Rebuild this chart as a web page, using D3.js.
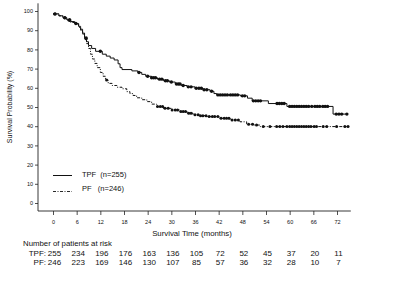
<!DOCTYPE html>
<html><head><meta charset="utf-8">
<script src="https://cdn.jsdelivr.net/npm/d3@7"></script>
<style>
body{margin:0;background:#fff;}
text{font-family:Arial,"Liberation Sans",sans-serif;fill:#111;}
</style></head>
<body><svg id="c" width="400" height="286"></svg>
<script>
// ---- data ----
const xTicks = [0,6,12,18,24,30,36,42,48,54,60,66,72];
const yTicks = [0,10,20,30,40,50,60,70,80,90,100];
const tpfSteps = [[0,98.5],[1.5,97.5],[2.5,96.5],[3.5,95.5],[4.5,94.5],[5.5,93.5],[6.5,92],[7,90.5],[7.5,88.5],[8,86],[8.5,84],[9,82],[9.8,80.5],[10.8,79],[12.5,77.5],[13.5,76.5],[14.5,75.5],[15.5,74.5],[16.5,72.5],[17,70.5],[17.5,69.5],[20,68.8],[21.5,68],[22.5,67],[23.5,66],[25,65.2],[26.5,64.5],[28,63.7],[29.5,63],[31,62],[32.5,61.2],[34,60.5],[36,59.8],[38,59],[39.8,58.2],[40.8,57],[41.5,56.3],[47.5,55.8],[49.3,54.6],[50.5,53.2],[54.6,51.8],[59.3,50.3],[71,46.3],[74.8,46.3]];
const pfSteps = [[0,98.5],[1.5,97.5],[2.5,96.5],[3.5,95],[4.5,94],[5.5,93],[6.5,91.5],[7,90],[7.5,88],[8,85.5],[8.5,83],[9,80.5],[9.5,77.5],[10,75],[10.6,72.7],[11.2,70.5],[12,68],[12.7,66],[13.3,64],[14,62.3],[15,61.2],[16.2,60.3],[17.5,59.5],[18.7,58],[19.5,57],[20.3,56],[21.2,54.8],[22.5,53.8],[23.8,52.8],[25,51.5],[26.3,50.2],[28,49.3],[30,48.5],[32.2,47.6],[34,46.8],[35.5,46],[37,45.5],[39,45],[42.3,44.1],[44.9,43.2],[47.4,42.3],[49.1,41],[51,40.6],[52.5,39.8],[74.8,39.8]];
const tpfCensor = [0.5,3,4.2,5.8,8.4,12,21.8,24,25,25.5,26,27,27.6,28.5,29,30,31.3,31.8,32.2,33,34.3,35,36.3,37,37.6,38.3,39,40.2,41.8,42.4,43,43.6,44.2,45,45.6,46.2,46.8,48,48.6,50.8,51.4,52,52.6,56.8,57.4,58,58.6,60,60.6,61.2,61.8,62.4,63,63.6,64.2,64.8,65.6,66.4,67,67.6,68.4,69,69.6,71.8,72.5,73.2,74.5];
const pfCensor = [0.5,3,4.2,8.4,13.6,26.5,27.2,27.8,28.4,29.2,30.2,31,31.6,32.4,33,33.6,34.4,35,36,36.8,37.4,38,38.8,39.6,40.4,41,41.8,42.6,43.4,44,44.6,45.4,46.2,47,49.6,50.6,51.6,53.3,55,56.7,57.5,58.3,59.3,60,60.6,61.2,61.8,62.4,63,63.6,64.2,64.8,65.4,66.2,66.8,68.5,69.4,71.9,74,74.8];
const riskTimes = [0,6,12,18,24,30,36,42,48,54,60,66,72];
const tpfRisk = [255,234,196,176,163,136,105,72,52,45,37,20,11];
const pfRisk = [246,223,169,146,130,107,85,57,36,32,28,10,7];
const seriesLabels = ["TPF  (n=255)","PF   (n=246)"];

// ---- drawing ----
const svg = d3.select("#c");
const x = d3.scaleLinear().domain([0,72]).range([53,337]);
const y = d3.scaleLinear().domain([0,100]).range([203,11]);

// axes
const yAx = svg.append("g").attr("transform","translate(38,0)")
  .call(d3.axisLeft(y).tickValues(yTicks).tickSize(3).tickPadding(2));
const xAx = svg.append("g").attr("transform","translate(0,211)")
  .call(d3.axisBottom(x).tickValues(xTicks).tickSize(4).tickPadding(5));
[yAx,xAx].forEach(g=>{
  g.select(".domain").remove();
  g.selectAll("line").attr("stroke","#222").attr("stroke-width",0.8);
  g.selectAll("text").style("font-size","5.5px").attr("fill","#222").style("font-family","Arial, 'Liberation Sans', sans-serif");
});
svg.append("line").attr("x1",38).attr("x2",38).attr("y1",y(104)).attr("y2",211).attr("stroke","#222").attr("stroke-width",0.9);
svg.append("line").attr("x1",38).attr("x2",x(75.5)).attr("y1",211).attr("y2",211).attr("stroke","#222").attr("stroke-width",0.9);

svg.append("text").attr("x",192).attr("y",236).attr("text-anchor","middle").style("font-size","7.8px").text("Survival Time (months)");
svg.append("text").attr("transform","translate(12,107) rotate(-90)").attr("text-anchor","middle").style("font-size","7px").text("Survival Probability (%)");

// curves
const line = d3.line().x(d=>x(d[0])).y(d=>y(d[1])).curve(d3.curveStepAfter);
svg.append("path").datum(tpfSteps).attr("d",line).attr("fill","none").attr("stroke","#111").attr("stroke-width",1);
svg.append("path").datum(pfSteps).attr("d",line).attr("fill","none").attr("stroke","#111").attr("stroke-width",1).attr("stroke-dasharray","3,1.5,1,1.5");

function stepVal(steps,t){let v=steps[0][1];for(const s of steps){if(s[0]<=t)v=s[1];}return v;}
svg.append("g").selectAll("circle").data(tpfCensor).join("circle")
  .attr("cx",d=>x(d)).attr("cy",d=>y(stepVal(tpfSteps,d))).attr("r",1.7).attr("fill","#111");
svg.append("g").selectAll("circle").data(pfCensor).join("circle")
  .attr("cx",d=>x(d)).attr("cy",d=>y(stepVal(pfSteps,d))).attr("r",1.5).attr("fill","#111");

// legend
svg.append("line").attr("x1",53).attr("x2",72).attr("y1",175.5).attr("y2",175.5).attr("stroke","#111").attr("stroke-width",1);
svg.append("line").attr("x1",53).attr("x2",72).attr("y1",191.5).attr("y2",191.5).attr("stroke","#111").attr("stroke-width",0.9).attr("stroke-dasharray","3,1.5,1,1.5");
svg.append("text").attr("x",82).attr("y",176.5).style("font-size","7.5px").style("white-space","pre").attr("xml:space","preserve").text(seriesLabels[0]);
svg.append("text").attr("x",82).attr("y",190.5).style("font-size","7.5px").style("white-space","pre").attr("xml:space","preserve").text(seriesLabels[1]);

// risk table
svg.append("text").attr("x",23).attr("y",245.5).style("font-size","7.8px").text("Number of patients at risk");
svg.append("text").attr("x",46).attr("y",256).attr("text-anchor","end").style("font-size","8px").text("TPF:");
svg.append("text").attr("x",46).attr("y",264.5).attr("text-anchor","end").style("font-size","8px").text("PF:");
svg.append("g").selectAll("text").data(tpfRisk).join("text")
  .attr("x",(d,i)=>x(riskTimes[i])+1.5).attr("y",256).attr("text-anchor","middle").style("font-size","8px").text(d=>d);
svg.append("g").selectAll("text").data(pfRisk).join("text")
  .attr("x",(d,i)=>x(riskTimes[i])+1.5).attr("y",264.5).attr("text-anchor","middle").style("font-size","8px").text(d=>d);
</script></body></html>
